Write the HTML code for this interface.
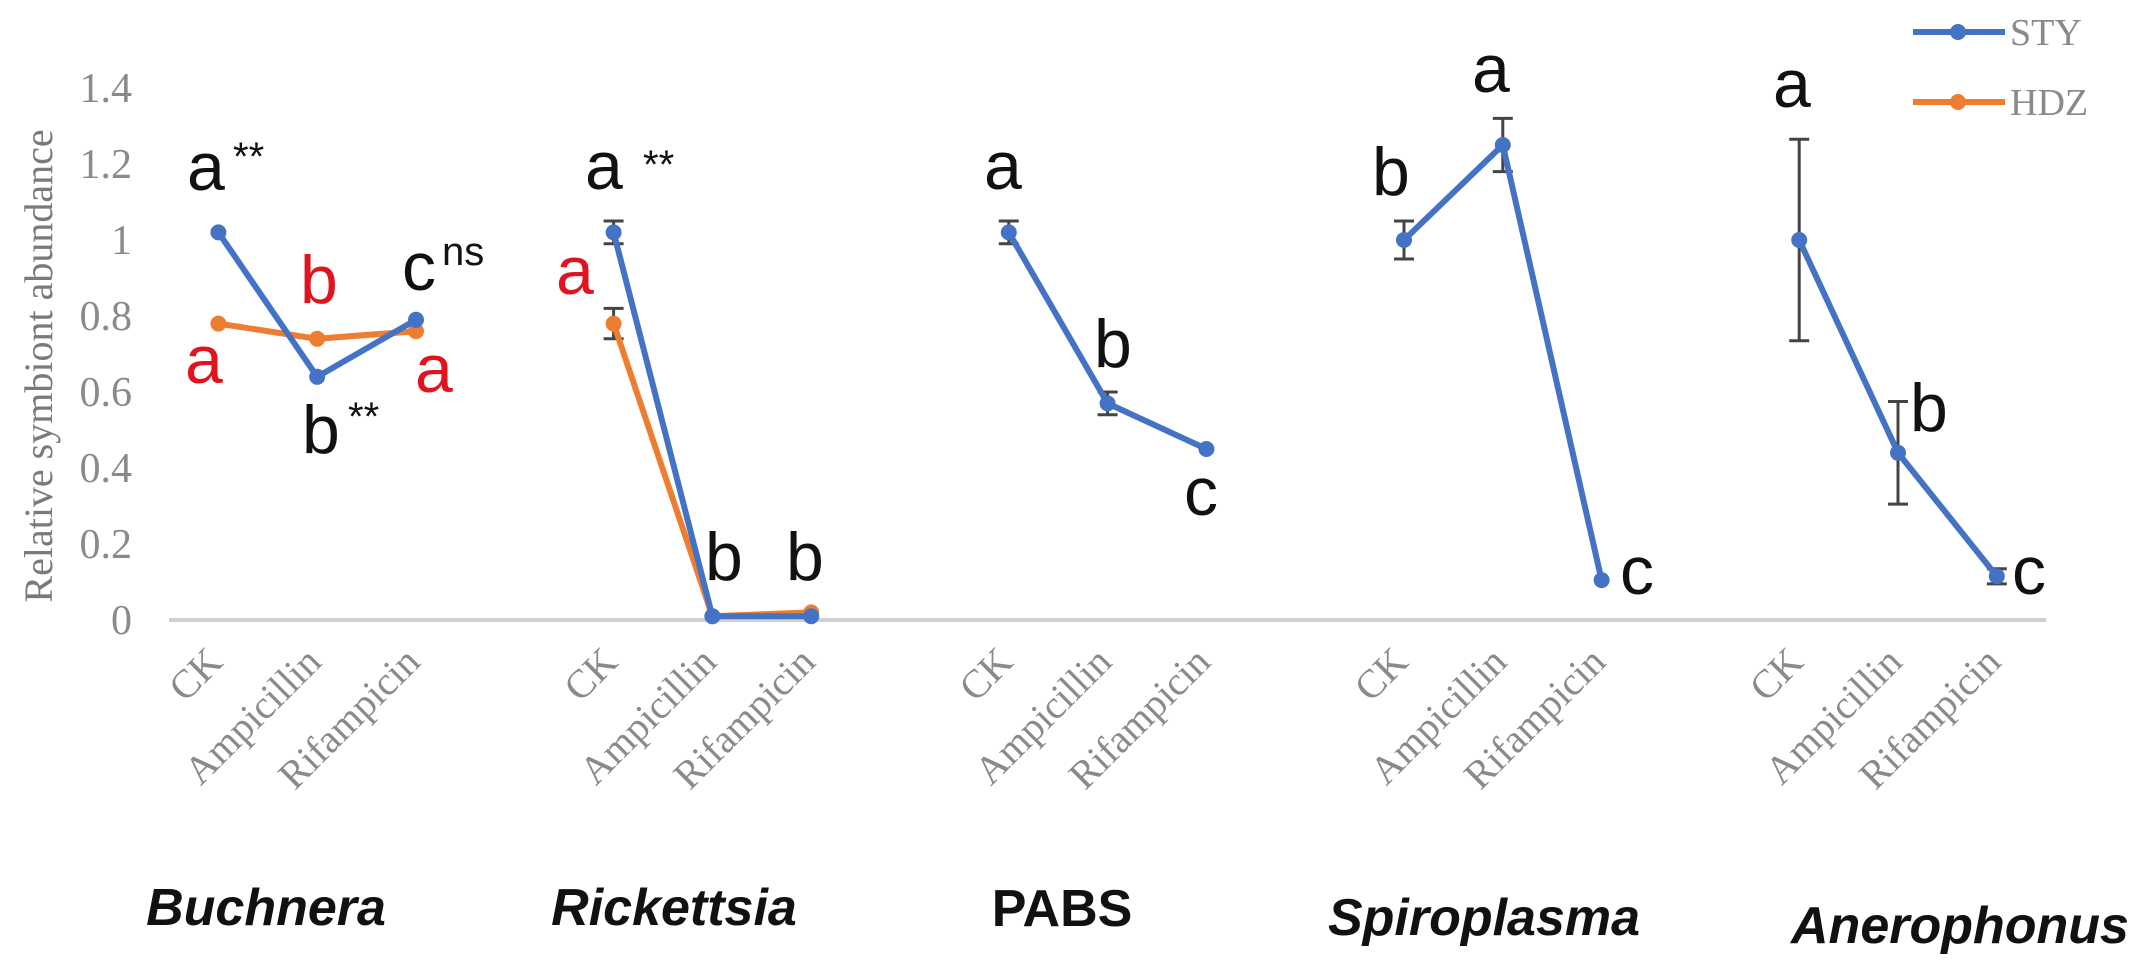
<!DOCTYPE html>
<html><head><meta charset="utf-8"><style>
html,body{margin:0;padding:0;background:#fff;}
svg{display:block;}
.tick{font-family:"Liberation Serif",serif;font-size:42px;fill:#8a8a8a;}
.cat{font-family:"Liberation Serif",serif;font-size:40px;fill:#8a8a8a;}
.grp{font-family:"Liberation Sans",sans-serif;font-size:52px;font-weight:bold;font-style:italic;fill:#111;}
.lt{font-family:"Liberation Sans",sans-serif;font-size:68px;}
.sup{font-family:"Liberation Sans",sans-serif;font-size:40px;fill:#111;}
</style></head><body>
<svg id="chart" width="2142" height="971" viewBox="0 0 2142 971" xmlns="http://www.w3.org/2000/svg">
<text transform="translate(52,366) rotate(-90)" text-anchor="middle" font-family="Liberation Serif, serif" font-size="40" fill="#7a7a7a">Relative symbiont abundance</text>
<g id="legend">
<g>
<line x1="1913" y1="32" x2="2005" y2="32" stroke="#4472C4" stroke-width="6"/><circle cx="1958" cy="32" r="8" fill="#4472C4"/>
<text x="2010" y="45" font-family="Liberation Serif, serif" font-size="38" fill="#8a8a8a">STY</text></g>
<g>
<line x1="1913" y1="102" x2="2005" y2="102" stroke="#ED7D31" stroke-width="6"/><circle cx="1958" cy="102" r="8" fill="#ED7D31"/>
<text x="2010" y="115" font-family="Liberation Serif, serif" font-size="38" fill="#8a8a8a">HDZ</text></g>
</g>
</svg>
<script>
const groups = ["Buchnera","Rickettsia","PABS","Spiroplasma","Anerophonus"];
const treatments = ["CK","Ampicillin","Rifampicin"];
const yTicks = [0,0.2,0.4,0.6,0.8,1,1.2,1.4];
const yTickLabels = ["0","0.2","0.4","0.6","0.8","1","1.2","1.4"];
const stySeries = [[1.02,0.64,0.79],[1.02,0.01,0.01],[1.02,0.57,0.45],[1.0,1.25,0.105],[1.0,0.44,0.115]];
const styErr = [[0.01,0.01,0.01],[0.03,0.01,0.01],[0.03,0.03,0.01],[0.05,0.07,0.01],[0.265,0.135,0.02]];
const hdzSeries = [[0.78,0.74,0.76],[0.78,0.01,0.02]];
const hdzErr = [[0.01,0.01,0.01],[0.04,0.01,0.01]];
const svg=document.getElementById('chart');
const NS='http://www.w3.org/2000/svg';
const X0=169, SLOT=98.8, Y0=620, UNIT=380;
function xs(g,t){return X0+SLOT*(g*4+t+0.5);}
function ys(v){return Y0-v*UNIT;}
function mk(tag,attrs,parent){const e=document.createElementNS(NS,tag);for(const k in attrs)e.setAttribute(k,attrs[k]);(parent||svg).appendChild(e);return e;}
const ax=mk('line',{x1:X0,y1:Y0,x2:X0+SLOT*19,y2:Y0,stroke:'#d0d0d0','stroke-width':4});


yTicks.forEach((v,i)=>{const t=mk('text',{x:132,y:ys(v)+14,'text-anchor':'end',class:'tick'});t.textContent=yTickLabels[i];

});
groups.forEach((g,gi)=>{
  treatments.forEach((tr,ti)=>{const x=xs(gi,ti)+6,y=664;
    const t=mk('text',{x:x,y:y,'text-anchor':'end',class:'cat',transform:`rotate(-45 ${x} ${y})`});t.textContent=tr;
    
    });
});
const gx=[266,674,1062,1484,1960], gy=[925,925,926,935,943];
groups.forEach((g,gi)=>{const t=mk('text',{x:gx[gi],y:gy[gi],'text-anchor':'middle',class:'grp'});t.textContent=g;
  if(g==='PABS') t.setAttribute('font-style','normal'), t.style.fontStyle='normal';
  
  });
function series(data,err,color,name){
  data.forEach((vals,gi)=>{
    const pts=vals.map((v,ti)=>xs(gi,ti)+','+ys(v)).join(' ');
    vals.forEach((v,ti)=>{const e=err[gi][ti];if(e>0.015){const x=xs(gi,ti);
      const eb=mk('path',{d:`M${x},${ys(v+e)}V${ys(v-e)}M${x-10},${ys(v+e)}H${x+10}M${x-10},${ys(v-e)}H${x+10}`,stroke:'#444','stroke-width':3,fill:'none'});
      
      }});
    const l=mk('polyline',{points:pts,fill:'none',stroke:color,'stroke-width':6});
    
    
    vals.forEach((v,ti)=>{const c=mk('circle',{cx:xs(gi,ti),cy:ys(v),r:8,fill:color});
      
      });
  });
}
series(hdzSeries,hdzErr,'#ED7D31','hdz');
series(stySeries,styErr,'#4472C4','sty');
const letters=[["a",187,190,"#111","**",233,170],["b",300,303,"#e0141e"],["c",402,290,"#111","ns",442,265],["a",185,383,"#e0141e"],["a",415,392,"#e0141e"],["b",302,453,"#111","**",348,430],
["a",585,189,"#111","**",643,178],["a",556,294,"#e0141e"],["b",705,580,"#111"],["b",786,580,"#111"],
["a",984,189,"#111"],["b",1094,367,"#111"],["c",1184,515,"#111"],
["b",1372,195,"#111"],["a",1472,92,"#111"],["c",1620,594,"#111"],
["a",1773,107,"#111"],["b",1910,431,"#111"],["c",2012,594,"#111"]];
letters.forEach(L=>{const t=mk('text',{x:L[1],y:L[2],class:'lt',fill:L[3]});t.textContent=L[0];
  
  
  if(L[4]){const s=mk('text',{x:L[5],y:L[6],class:'sup','font-size':L[4]=='ns'?48:40});s.textContent=L[4];
    
    }});
svg.appendChild(document.getElementById('legend'));
</script>
</body></html>
